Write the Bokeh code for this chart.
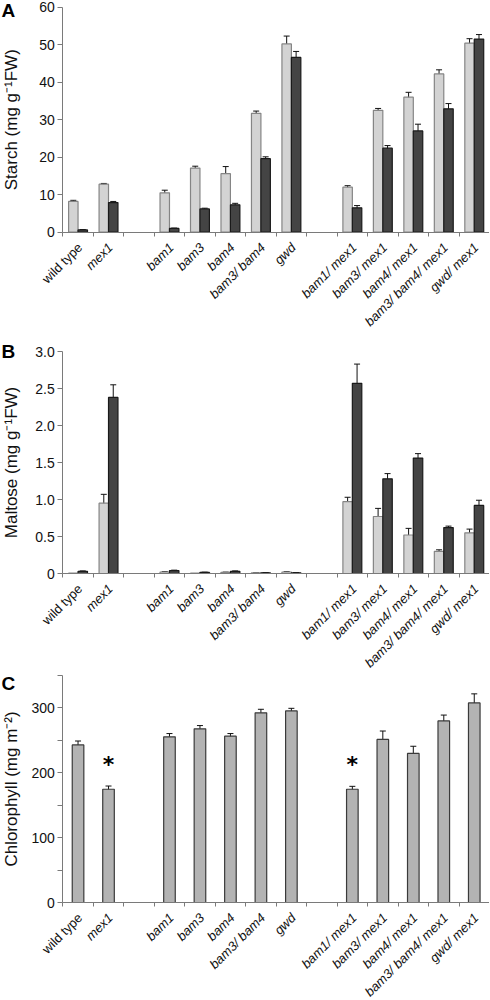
import numpy as np
from math import pi
from bokeh.plotting import figure
from bokeh.layouts import column
from bokeh.models import ColumnDataSource, Range1d, FixedTicker, Whisker, TeeHead
from bokeh.core.properties import value
from bokeh.embed import file_html
from bokeh.resources import INLINE

# ---------------- data ----------------
# x slots (None = empty gap slot)
slots = ["wild type", "mex1", None, "bam1", "bam3", "bam4", "bam3/ bam4", "gwd", None,
         "bam1/ mex1", "bam3/ mex1", "bam4/ mex1", "bam3/ bam4/ mex1", "gwd/ mex1"]
genotypes = [s for s in slots if s is not None]

starch_light = [8.2, 12.8, 10.5, 17.1, 15.6, 31.7, 50.2, 12.0, 32.5, 36.0, 42.2, 50.4]
starch_light_err = [0.3, 0.2, 0.7, 0.5, 1.9, 0.6, 2.1, 0.4, 0.5, 1.3, 1.1, 1.2]
starch_dark = [0.6, 7.9, 1.0, 6.2, 7.3, 19.6, 46.6, 6.5, 22.4, 27.0, 32.9, 51.5]
starch_dark_err = [0.1, 0.3, 0.1, 0.2, 0.4, 0.5, 1.6, 0.6, 0.7, 1.8, 1.4, 1.2]

maltose_light = [0.005, 0.95, 0.02, 0.005, 0.015, 0.01, 0.02, 0.97, 0.77, 0.52, 0.30, 0.55]
maltose_light_err = [0.0, 0.12, 0.005, 0.0, 0.004, 0.003, 0.005, 0.06, 0.11, 0.09, 0.02, 0.05]
maltose_dark = [0.03, 2.38, 0.04, 0.015, 0.03, 0.01, 0.01, 2.57, 1.28, 1.56, 0.62, 0.92]
maltose_dark_err = [0.005, 0.17, 0.005, 0.003, 0.005, 0.002, 0.003, 0.26, 0.07, 0.06, 0.02, 0.07]

chlorophyll = [243, 174.6, 255.5, 267.8, 256.5, 292.4, 295.4, 174.6, 251.4, 229.9, 280, 307.7]
chlorophyll_err = [6, 5, 5, 5, 4, 5.5, 4, 4.5, 13, 11, 9, 14]
significant = [False, True, False, False, False, False, False, True, False, False, False, False]

starch_ticks = [0, 10, 20, 30, 40, 50, 60]
maltose_ticks = [0, 0.5, 1.0, 1.5, 2.0, 2.5, 3.0]
maltose_labels = ["0", "0.5", "1.0", "1.5", "2.0", "2.5", "3.0"]
chl_ticks = [0, 100, 200, 300]
chl_minor = [50, 150, 250, 350]

# ---------------- layout (page pixels) ----------------
FIG_W = 489            # figure spans page x 0 .. 489
AXIS_X = 62.3          # page x of the y axis
RIGHT_X = 489.0        # page x of the right end of the x axis
PAGE_LEFT = 0.0

FONT = "Liberation Sans"
LIGHT_FILL, LIGHT_LINE = "#d3d3d3", "#858585"
DARK_FILL, DARK_LINE = "#444444", "#1a1a1a"
AXIS_COLOR = "#7a7a7a"
TXT = "#111111"

n_slots = len(slots)
centers = np.array([i + 0.5 for i, s in enumerate(slots) if s is not None])
bounds = list(range(0, n_slots + 1))
is_wt = np.array([g == "wild type" for g in genotypes])

slot_px = (RIGHT_X - AXIS_X) / n_slots
x_lo = -(AXIS_X - PAGE_LEFT) / slot_px
x_hi = x_lo + FIG_W / slot_px


def make_panel(letter, ylabel, y_end, yticks, fig_top, fig_h, ytop_px, y0_px, letter_dy,
               overrides=None, yminor=None):
    ppu = (y0_px - ytop_px) / y_end
    y_hi = y_end + (ytop_px - fig_top) / ppu
    y_lo = -(fig_top + fig_h - y0_px) / ppu
    p = figure(frame_width=FIG_W, frame_height=fig_h,
               min_border_left=0, min_border_right=0, min_border_top=0, min_border_bottom=0,
               x_range=Range1d(x_lo, x_hi), y_range=Range1d(y_lo, y_hi),
               output_backend="svg", toolbar_location=None, tools="")
    p.title.visible = False
    p.outline_line_color = None
    p.xgrid.visible = False
    p.ygrid.visible = False
    p.background_fill_color = "white"
    p.border_fill_color = "white"

    # x axis drawn at y = 0, ticks at slot boundaries, no labels
    xa = p.xaxis[0]
    xa.fixed_location = 0
    xa.bounds = (0, n_slots)
    xa.ticker = FixedTicker(ticks=bounds)
    xa.major_label_text_font_size = "1px"
    xa.major_label_text_color = None
    xa.major_label_standoff = 0
    xa.major_tick_out = 4
    xa.major_tick_in = 0
    xa.minor_tick_out = 0
    xa.axis_line_color = AXIS_COLOR
    xa.major_tick_line_color = AXIS_COLOR

    # y axis drawn at x = 0
    ya = p.yaxis[0]
    ya.fixed_location = 0
    ya.bounds = (0, y_end)
    ya.ticker = FixedTicker(ticks=yticks, minor_ticks=yminor or [])
    ya.major_tick_out = 5
    ya.major_tick_in = 0
    ya.minor_tick_out = 5 if yminor else 0
    ya.minor_tick_in = 0
    ya.minor_tick_line_color = AXIS_COLOR
    ya.axis_line_color = AXIS_COLOR
    ya.major_tick_line_color = AXIS_COLOR
    ya.major_label_text_font = FONT
    ya.major_label_text_font_size = "14px"
    ya.major_label_text_color = TXT
    ya.major_label_standoff = 3
    if overrides:
        ya.major_label_overrides = overrides

    # y axis title
    p.text(x=[0], y=[y_end / 2], text=[ylabel], angle=pi / 2, x_offset=-51,
           text_align="center", text_baseline="middle", text_font=value(FONT),
           text_font_size="17px", text_color=TXT)
    # panel letter
    p.text(x=[0], y=[y_end], text=[letter], x_offset=-(AXIS_X - PAGE_LEFT) + 1,
           y_offset=letter_dy, text_align="left", text_baseline="middle",
           text_font=value(FONT), text_font_size="19px", text_font_style="bold",
           text_color="black")

    # category labels under the axis
    for mask, style in ((is_wt, "normal"), (~is_wt, "italic")):
        p.text(x=centers[mask], y=np.zeros(mask.sum()),
               text=[g for g, m in zip(genotypes, mask) if m],
               angle=pi / 4, x_offset=2, y_offset=13,
               text_align="right", text_baseline="middle",
               text_font=value(FONT), text_font_size="13px",
               text_font_style=style, text_color=TXT)
    return p


def add_whisker(p, xs, v, e):
    m = e > 0
    src = ColumnDataSource(dict(x=xs[m], lo=(v - e)[m], hi=(v + e)[m]))
    p.add_layout(Whisker(base="x", lower="lo", upper="hi", source=src,
                         line_color=TXT, line_width=1,
                         upper_head=TeeHead(size=6, line_color=TXT, line_width=1),
                         lower_head=TeeHead(size=6, line_color=TXT, line_width=1)))


def add_pair(p, light, light_err, dark, dark_err, w=0.31, off=0.155):
    for vals, errs, shift, fill, line in ((light, light_err, -off, LIGHT_FILL, LIGHT_LINE),
                                          (dark, dark_err, off, DARK_FILL, DARK_LINE)):
        xs = centers + shift
        v = np.array(vals, dtype=float)
        e = np.array(errs, dtype=float)
        p.vbar(x=xs, top=v, bottom=0, width=w,
               fill_color=fill, line_color=line, line_width=1.2)
        add_whisker(p, xs, v, e)


# ---------------- panel A ----------------
pa = make_panel("A", "Starch (mg g⁻¹FW)", 60, starch_ticks, 0, 334, 6.7, 231.7, 3)
add_pair(pa, starch_light, starch_light_err, starch_dark, starch_dark_err)

# ---------------- panel B ----------------
pb = make_panel("B", "Maltose (mg g⁻¹FW)", 3.0, maltose_ticks, 334, 337, 351.0, 573.0, 0,
                overrides={t: s for t, s in zip(maltose_ticks, maltose_labels)})
add_pair(pb, maltose_light, maltose_light_err, maltose_dark, maltose_dark_err)

# ---------------- panel C ----------------
pc = make_panel("C", "Chlorophyll (mg m⁻²)", 350, chl_ticks, 671, 328, 675, 902, 8,
                yminor=chl_minor)
chl = np.array(chlorophyll, dtype=float)
chl_e = np.array(chlorophyll_err, dtype=float)
pc.vbar(x=centers, top=chl, bottom=0, width=0.38, fill_color="#b3b3b3",
        line_color="#3a3a3a", line_width=1.2)
add_whisker(pc, centers, chl, chl_e)
sig = np.array(significant)
pc.text(x=centers[sig], y=(chl + chl_e)[sig], text=["*"] * int(sig.sum()),
        y_offset=-9, text_align="center", text_baseline="bottom",
        text_font=value("DejaVu Sans"), text_font_size="22px",
        text_font_style="bold", text_color="black")

layout = column(pa, pb, pc, spacing=0)
open("out.html", "w").write(file_html(layout, INLINE))
